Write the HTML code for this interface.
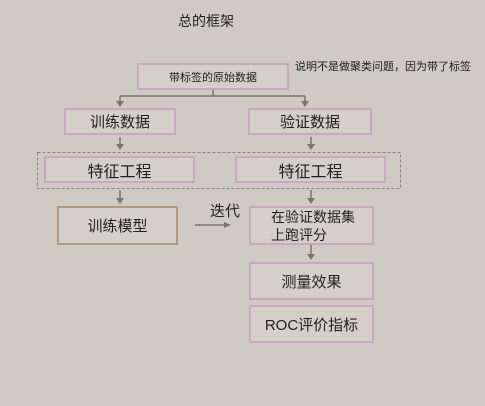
<!DOCTYPE html>
<html><head><meta charset="utf-8"><style>
body{margin:0;width:485px;height:406px;background:#cfcac3;position:relative;overflow:hidden;font-family:"Liberation Sans","Noto Sans CJK SC",sans-serif;color:#222}
.b{position:absolute;box-sizing:border-box;border:2px solid #c9a9c2;background:#d4cfc9;display:flex;align-items:center;justify-content:center;font-size:15px}
.t{position:absolute;white-space:nowrap}
.l{position:absolute;background:#7a7670}
</style></head><body>
<div class="t" style="left:178px;top:11px;font-size:14px">总的框架</div>
<div class="t" style="left:295px;top:58px;font-size:11px">说明不是做聚类问题，因为带了标签</div>
<div class="b" style="left:137px;top:63px;width:152px;height:27px;font-size:11px">带标签的原始数据</div>
<svg style="position:absolute;left:0;top:0" width="485" height="406">
<g stroke="#7a7670" stroke-width="1.5" fill="none">
<path d="M213 90V96M120 96H305M120 96V103M305 96V103"/>
<path d="M120 137V146M311 137V146M120 190V200M311 190V200M311 245V256"/>
<path d="M195 225H226"/>
</g>
<g fill="#7a7670">
<path d="M116 101L120 107L124 101Z"/><path d="M301 101L305 107L309 101Z"/>
<path d="M116 144L120 150L124 144Z"/><path d="M307 144L311 150L315 144Z"/>
<path d="M116 198L120 204L124 198Z"/><path d="M307 198L311 204L315 198Z"/>
<path d="M307 254L311 260L315 254Z"/><path d="M224 222L231 225L224 228Z"/>
</g>
<rect x="37.5" y="152.5" width="363" height="36" fill="none" stroke="#8a8580" stroke-dasharray="3,2"/>
</svg>
<div class="b" style="left:64px;top:108px;width:112px;height:27px">训练数据</div>
<div class="b" style="left:248px;top:108px;width:124px;height:27px">验证数据</div>
<div class="b" style="left:44px;top:156px;width:151px;height:27px;font-size:16px">特征工程</div>
<div class="b" style="left:235px;top:156px;width:151px;height:27px;font-size:16px">特征工程</div>
<div class="b" style="left:57px;top:206px;width:121px;height:39px;border-color:#b09a80">训练模型</div>
<div class="t" style="left:210px;top:200px;font-size:15px">迭代</div>
<div class="b" style="left:249px;top:206px;width:125px;height:39px;justify-content:flex-start;padding-left:20px;line-height:18px;font-size:14px">在验证数据集<br>上跑评分</div>
<div class="b" style="left:249px;top:262px;width:125px;height:38px">测量效果</div>
<div class="b" style="left:249px;top:305px;width:125px;height:38px">ROC评价指标</div>
</body></html>
